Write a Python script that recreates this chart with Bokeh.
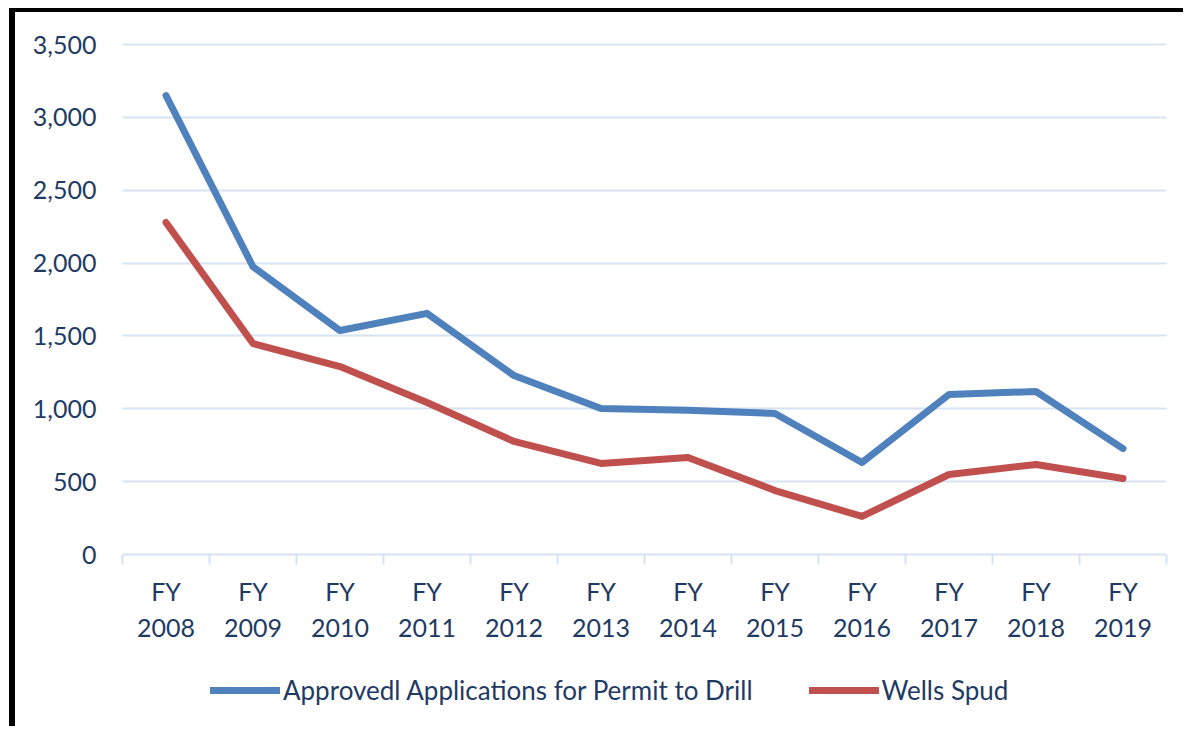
from bokeh.plotting import figure
from bokeh.layouts import column
from bokeh.models import (FixedTicker, NumeralTickFormatter, LinearAxis, Legend, LegendItem, Range1d, ColumnDataSource)
from bokeh.embed import file_html
from bokeh.resources import INLINE

years = ["2008", "2009", "2010", "2011", "2012", "2013", "2014", "2015", "2016", "2017", "2018", "2019"]
apd_approved = [3150, 1975, 1537, 1655, 1228, 1002, 990, 968, 631, 1098, 1119, 727]
wells_spud = [2279, 1448, 1290, 1043, 776, 625, 666, 439, 261, 549, 618, 522]
y_ticks = [0, 500, 1000, 1500, 2000, 2500, 3000, 3500]
label_apd = "Approvedl Applications for Permit to Drill"
label_spud = "Wells Spud"

FONT = "Lato"
FS = "25px"
TXT = "#1F3B63"
GRID = "#D6E3F3"
BLUE = "#4F81BD"
RED = "#C0504D"

xs = list(range(len(years)))
src = ColumnDataSource(dict(x=xs, apd=apd_approved, spud=wells_spud))

p = figure(frame_width=1044, frame_height=512, output_backend="svg", toolbar_location=None,
           x_range=Range1d(-0.5, len(years) - 0.5), y_range=Range1d(0, 3514),
           x_axis_location=None, min_border_left=107, min_border_right=16,
           min_border_top=30, min_border_bottom=106)
p.outline_line_color = None
p.background_fill_color = "white"
p.border_fill_color = "white"

r1 = p.line("x", "apd", source=src, line_color=BLUE, line_width=7, line_join="round", line_cap="round")
r2 = p.line("x", "spud", source=src, line_color=RED, line_width=7, line_join="round", line_cap="round")

# y axis
ya = p.yaxis[0]
ya.ticker = FixedTicker(ticks=y_ticks)
ya.formatter = NumeralTickFormatter(format="0,0")
ya.axis_line_color = None
ya.major_tick_line_color = None
ya.minor_tick_line_color = None
ya.major_label_text_font = FONT
ya.major_label_text_font_size = FS
ya.major_label_text_color = TXT
ya.major_label_standoff = 20

p.xgrid.visible = False
p.ygrid.ticker = FixedTicker(ticks=y_ticks[1:])
p.ygrid.grid_line_color = GRID
p.ygrid.grid_line_width = 2

# x axis with "FY" labels and boundary ticks
bounds = [i - 0.5 for i in range(len(years) + 1)]
xa1 = LinearAxis(ticker=FixedTicker(ticks=xs, minor_ticks=bounds))
xa1.major_label_overrides = {i: "FY" for i in xs}
xa1.axis_line_color = GRID
xa1.axis_line_width = 2
xa1.major_tick_line_color = None
xa1.minor_tick_line_color = GRID
xa1.minor_tick_line_width = 2
xa1.minor_tick_in = 0
xa1.minor_tick_out = 10
xa1.major_label_text_font = FONT
xa1.major_label_text_font_size = FS
xa1.major_label_text_color = TXT
xa1.major_label_standoff = 11
p.add_layout(xa1, "below")

xa2 = LinearAxis(ticker=FixedTicker(ticks=xs))
xa2.major_label_overrides = {i: y for i, y in zip(xs, years)}
xa2.axis_line_color = None
xa2.major_tick_line_color = None
xa2.minor_tick_line_color = None
xa2.major_tick_out = 0
xa2.major_tick_in = 0
xa2.major_label_text_font = FONT
xa2.major_label_text_font_size = FS
xa2.major_label_text_color = TXT
xa2.major_label_standoff = 10
p.add_layout(xa2, "below")

# legend strip below the chart (its frame is aligned with the chart frame)
lp = figure(width=1168, height=66, output_backend="svg", toolbar_location=None,
            x_range=Range1d(0, 1), y_range=Range1d(0, 1),
            x_axis_location=None, y_axis_location=None, min_border=0)
lp.outline_line_color = None
lp.grid.visible = False
lr1 = lp.line(x=[-10, -9], y=[-10, -9], line_color=BLUE, line_width=7, line_cap="round")
lr2 = lp.line(x=[-10, -9], y=[-10, -9], line_color=RED, line_width=7, line_cap="round")
legend = Legend(items=[LegendItem(label=label_apd, renderers=[lr1]),
                       LegendItem(label=label_spud, renderers=[lr2])],
                orientation="horizontal", location=(88, 20))
legend.label_text_font = FONT
legend.label_text_font_size = "26px"
legend.label_text_color = TXT
legend.glyph_width = 70
legend.glyph_height = 20
legend.label_standoff = 3
legend.spacing = 56
legend.border_line_color = None
legend.background_fill_alpha = 0
legend.margin = 0
legend.padding = 0
lp.add_layout(legend, "center")

page = column(p, lp, spacing=0, margin=(8, 0, 0, 9),
              styles={"border-top": "4px solid black", "border-left": "6px solid black"})
p = page
open("out.html", "w").write(file_html(p, INLINE))
